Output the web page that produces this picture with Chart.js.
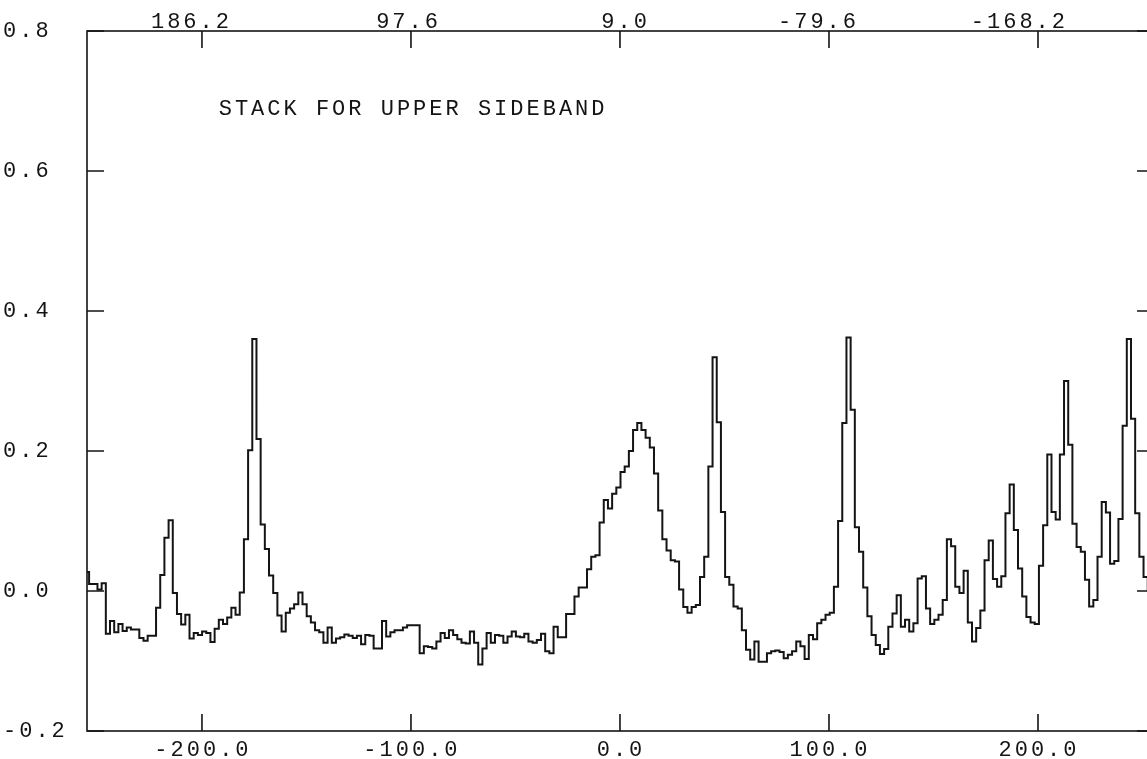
<!DOCTYPE html>
<html>
<head>
<meta charset="utf-8">
<script src="https://cdn.jsdelivr.net/npm/chart.js@4.4.0/dist/chart.umd.min.js"></script>
<style>
  html, body { margin: 0; padding: 0; background: #fff; overflow: hidden; }
  canvas { display: block; }
</style>
</head>
<body>
<canvas id="spec" width="1160" height="759"></canvas>
<script>
// stacked spectrum, one value per channel
const SPEC = [
  0.027, 0.010, 0.010, 0.002, 0.011, -0.061, -0.043, -0.059, -0.047, -0.057,
  -0.052, -0.055, -0.055, -0.067, -0.071, -0.064, -0.064, -0.024, 0.023, 0.076,
  0.101, -0.003, -0.033, -0.048, -0.034, -0.068, -0.060, -0.063, -0.058, -0.060,
  -0.073, -0.054, -0.041, -0.047, -0.038, -0.024, -0.034, -0.002, 0.074, 0.201,
  0.360, 0.217, 0.095, 0.060, 0.022, -0.003, -0.035, -0.058, -0.031, -0.025,
  -0.019, -0.002, -0.019, -0.036, -0.045, -0.056, -0.059, -0.074, -0.052, -0.074,
  -0.068, -0.066, -0.062, -0.064, -0.067, -0.064, -0.076, -0.063, -0.064, -0.082,
  -0.082, -0.043, -0.065, -0.059, -0.056, -0.056, -0.052, -0.049, -0.049, -0.049,
  -0.089, -0.079, -0.080, -0.082, -0.072, -0.060, -0.067, -0.056, -0.063, -0.069,
  -0.074, -0.075, -0.058, -0.074, -0.105, -0.082, -0.060, -0.074, -0.063, -0.064,
  -0.074, -0.065, -0.058, -0.065, -0.066, -0.061, -0.072, -0.074, -0.070, -0.061,
  -0.086, -0.089, -0.051, -0.066, -0.066, -0.033, -0.033, -0.008, 0.005, 0.005,
  0.031, 0.049, 0.051, 0.098, 0.130, 0.118, 0.139, 0.148, 0.170, 0.178,
  0.200, 0.230, 0.240, 0.230, 0.219, 0.205, 0.168, 0.115, 0.074, 0.058,
  0.044, 0.042, 0.002, -0.023, -0.031, -0.023, -0.020, 0.020, 0.049, 0.178,
  0.334, 0.241, 0.113, 0.020, 0.009, -0.022, -0.025, -0.056, -0.084, -0.098,
  -0.072, -0.101, -0.101, -0.089, -0.086, -0.085, -0.087, -0.096, -0.091, -0.086,
  -0.072, -0.079, -0.097, -0.063, -0.069, -0.046, -0.041, -0.034, -0.031, 0.006,
  0.100, 0.240, 0.362, 0.259, 0.091, 0.056, 0.005, -0.036, -0.063, -0.077,
  -0.090, -0.083, -0.051, -0.032, -0.006, -0.051, -0.041, -0.058, -0.046, 0.018,
  0.021, -0.025, -0.047, -0.041, -0.034, -0.013, 0.074, 0.064, 0.006, -0.003,
  0.029, -0.045, -0.072, -0.053, -0.028, 0.044, 0.072, 0.017, 0.006, 0.021,
  0.111, 0.152, 0.087, 0.032, -0.008, -0.037, -0.045, -0.047, 0.036, 0.094,
  0.195, 0.113, 0.102, 0.195, 0.300, 0.209, 0.096, 0.063, 0.056, 0.016,
  -0.022, -0.013, 0.049, 0.127, 0.112, 0.039, 0.043, 0.103, 0.236, 0.360,
  0.246, 0.111, 0.049, 0.020, 0.001, -0.010
];
const CHANNELS = SPEC.map((_, i) => i);

const VEL_RANGE = [-255, 255.5];          // bottom axis
const VEL_TICKS = [-200, -100, 0, 100, 200];
const TOP_TICKS = [186.2, 97.6, 9.0, -79.6, -168.2];
const TOP_AT_ZERO = 9.0;                  // top axis value where bottom = 0
const TOP_PER_UNIT = -0.886;
const Y_TICKS = [-0.2, 0.0, 0.2, 0.4, 0.6, 0.8];
const LABEL = 'STACK FOR UPPER SIDEBAND';

const INK = '#141414';
const FONT = { family: '"Liberation Mono", "Courier New", monospace', size: 22 };
const SPACING = '3px';

// frame, inward ticks and the caption
const framePlugin = {
  id: 'frame',
  // canvas resets wipe ctx state, so set the spacing again before measuring / drawing
  beforeUpdate(chart) { chart.ctx.letterSpacing = SPACING; },
  beforeDraw(chart) { chart.ctx.letterSpacing = SPACING; },
  afterDatasetsDraw(chart) {
    const { ctx, chartArea: a, scales } = chart;
    const len = 17;
    ctx.save();
    ctx.strokeStyle = INK;
    ctx.lineWidth = 1.6;
    ctx.strokeRect(a.left, a.top, a.right - a.left, a.bottom - a.top);
    ctx.beginPath();
    scales.x.ticks.forEach((t, i) => {
      const px = scales.x.getPixelForTick(i);
      ctx.moveTo(px, a.bottom); ctx.lineTo(px, a.bottom - len);
    });
    scales.top.ticks.forEach((t, i) => {
      const px = scales.top.getPixelForTick(i);
      ctx.moveTo(px, a.top); ctx.lineTo(px, a.top + len);
    });
    scales.y.ticks.forEach((t, i) => {
      const py = scales.y.getPixelForTick(i);
      ctx.moveTo(a.left, py); ctx.lineTo(a.left + len, py);
      ctx.moveTo(a.right, py); ctx.lineTo(a.right - len, py);
    });
    ctx.stroke();

    ctx.font = FONT.size + 'px ' + FONT.family;
    ctx.letterSpacing = SPACING;
    ctx.fillStyle = INK;
    ctx.textBaseline = 'middle';
    ctx.textAlign = 'left';
    ctx.fillText(LABEL, scales.x.getPixelForValue(-192), scales.y.getPixelForValue(0.688));
    ctx.restore();
  }
};

// keep label overhang from pushing the plot area around
const noOverhang = s => {
  s.paddingTop = 0; s.paddingBottom = 0; s.paddingLeft = 0; s.paddingRight = 0;
};

const topMin = TOP_AT_ZERO + TOP_PER_UNIT * VEL_RANGE[1];
const topMax = TOP_AT_ZERO + TOP_PER_UNIT * VEL_RANGE[0];

new Chart(document.getElementById('spec'), {
  type: 'line',
  data: {
    labels: CHANNELS,
    datasets: [{
      data: SPEC,
      xAxisID: 'xc',
      yAxisID: 'y',
      stepped: 'middle',
      borderColor: INK,
      borderWidth: 2,
      pointRadius: 0,
      fill: false
    }]
  },
  options: {
    responsive: false,
    animation: false,
    events: [],
    layout: { padding: { left: 3, right: 6, top: 0, bottom: 0 } },
    plugins: { legend: { display: false }, tooltip: { enabled: false } },
    scales: {
      xc: { type: 'category', display: false, offset: false },
      x: {
        type: 'linear', position: 'bottom',
        min: VEL_RANGE[0], max: VEL_RANGE[1],
        afterBuildTicks: s => { s.ticks = VEL_TICKS.map(v => ({ value: v })); },
        afterFit: s => { s.height = 28; noOverhang(s); },
        grid: { display: false, drawTicks: false }, border: { display: false },
        ticks: { color: INK, font: FONT, padding: 6, maxRotation: 0, autoSkip: false,
                 labelOffset: 1, callback: v => v.toFixed(1) }
      },
      top: {
        type: 'linear', position: 'top', reverse: true,
        min: topMin, max: topMax,
        afterBuildTicks: s => { s.ticks = TOP_TICKS.map(v => ({ value: v })); },
        afterFit: s => { s.height = 31; noOverhang(s); },
        grid: { display: false, drawTicks: false }, border: { display: false },
        ticks: { color: INK, font: FONT, padding: -4, maxRotation: 0, autoSkip: false,
                 align: 'end', labelOffset: 30, callback: v => v.toFixed(1) }
      },
      y: {
        type: 'linear', position: 'left',
        min: -0.2, max: 0.8,
        afterBuildTicks: s => { s.ticks = Y_TICKS.map(v => ({ value: v })); },
        afterFit: s => { s.width = 84; noOverhang(s); },
        grid: { display: false, drawTicks: false }, border: { display: false },
        ticks: { color: INK, font: FONT, padding: 0, crossAlign: 'far', autoSkip: false,
                 callback: v => v.toFixed(1) }
      }
    }
  },
  plugins: [framePlugin]
});
</script>
</body>
</html>
